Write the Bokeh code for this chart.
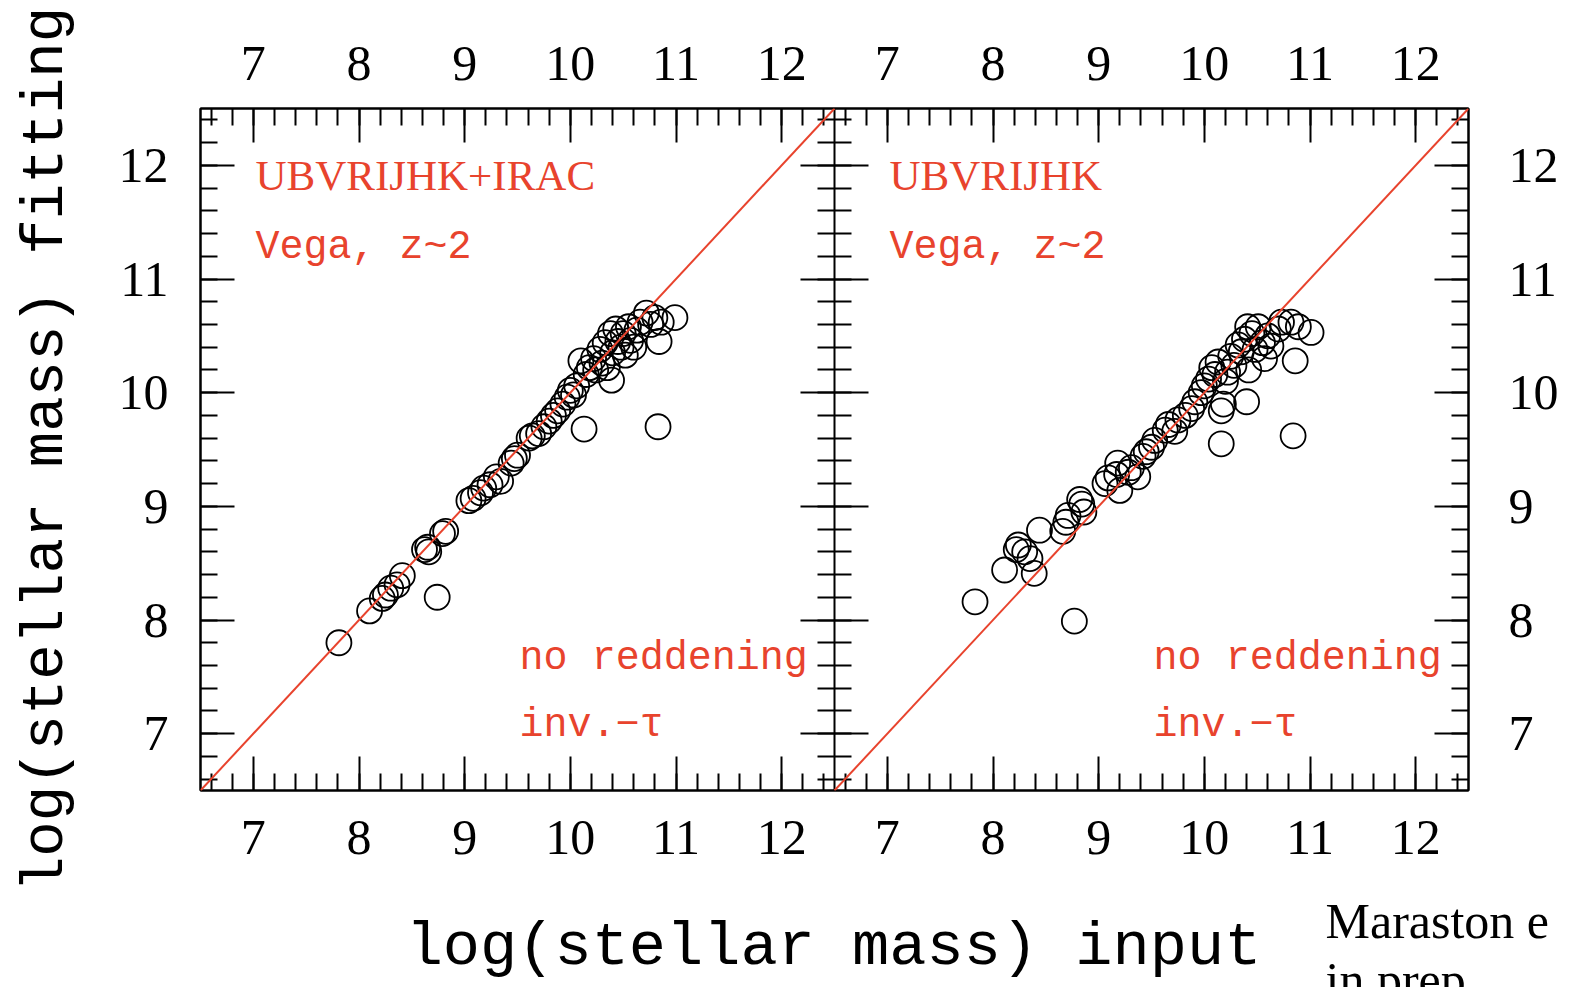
from bokeh.plotting import figure
from bokeh.models import LinearAxis, FixedTicker, Range1d, Label, Slope
from bokeh.layouts import column
from bokeh.embed import file_html
from bokeh.resources import INLINE

# ---------------- data ----------------
tick_values = [7, 8, 9, 10, 11, 12]
minor_values = [6.6, 6.8, 7.0, 7.2, 7.4, 7.6, 7.8, 8.0, 8.2, 8.4, 8.6, 8.8, 9.0, 9.2, 9.4,
                9.6, 9.8, 10.0, 10.2, 10.4, 10.6, 10.8, 11.0, 11.2, 11.4, 11.6, 11.8, 12.0, 12.2, 12.4]

# left panel: UBVRIJHK+IRAC
left_input = [7.81, 8.10, 8.22, 8.25, 8.30, 8.36, 8.41, 8.74, 8.62, 8.65, 8.66, 8.79, 8.82,
              9.04, 9.08, 9.15, 9.18, 9.24, 9.34, 9.30, 9.44, 9.47, 9.50, 9.61, 9.64, 9.70,
              9.75, 9.80, 9.84, 9.88, 9.93, 9.97, 10.00, 10.03, 10.06, 10.13, 10.10, 10.15,
              10.18, 10.22, 10.24, 10.28, 10.30, 10.33, 10.35, 10.38, 10.39, 10.40, 10.43,
              10.45, 10.48, 10.50, 10.52, 10.55, 10.57, 10.60, 10.63, 10.66, 10.72, 10.76,
              10.80, 10.84, 10.86, 10.99, 10.83]
left_fit = [7.80, 8.08, 8.19, 8.22, 8.28, 8.31, 8.39, 8.20, 8.62, 8.64, 8.60, 8.76, 8.78,
            9.05, 9.07, 9.12, 9.16, 9.19, 9.22, 9.26, 9.38, 9.42, 9.45, 9.60, 9.62, 9.64,
            9.70, 9.75, 9.80, 9.84, 9.90, 9.96, 10.02, 9.98, 10.06, 9.68, 10.28, 10.16,
            10.22, 10.30, 10.20, 10.38, 10.26, 10.44, 10.22, 10.52, 10.11, 10.35, 10.56,
            10.45, 10.40, 10.52, 10.33, 10.58, 10.46, 10.40, 10.55, 10.62, 10.70, 10.60,
            10.66, 10.45, 10.62, 10.66, 9.70]

# right panel: UBVRIJHK
right_input = [7.83, 8.11, 8.22, 8.24, 8.30, 8.35, 8.39, 8.44, 8.77, 8.66, 8.69, 8.71, 8.82,
               8.84, 8.86, 9.06, 9.09, 9.17, 9.20, 9.18, 9.28, 9.31, 9.37, 9.42, 9.45, 9.50,
               9.53, 9.63, 9.66, 9.72, 9.75, 9.82, 9.88, 9.91, 9.97, 10.00, 10.04, 10.07,
               10.10, 10.13, 10.16, 10.18, 10.16, 10.20, 10.22, 10.25, 10.28, 10.32, 10.35,
               10.38, 10.40, 10.41, 10.42, 10.45, 10.48, 10.51, 10.55, 10.57, 10.60, 10.63,
               10.70, 10.73, 10.82, 10.86, 10.89, 11.01, 10.84]
right_fit = [8.16, 8.44, 8.62, 8.66, 8.60, 8.54, 8.41, 8.79, 7.99, 8.78, 8.86, 8.92, 9.06,
             9.02, 8.95, 9.20, 9.25, 9.28, 9.14, 9.38, 9.30, 9.34, 9.26, 9.44, 9.48, 9.52,
             9.58, 9.67, 9.72, 9.66, 9.76, 9.80, 9.86, 9.92, 10.00, 10.06, 10.12, 10.22,
             10.16, 10.27, 9.84, 9.90, 9.55, 10.10, 10.18, 10.32, 10.24, 10.42, 10.36,
             10.47, 9.92, 10.58, 10.20, 10.52, 10.38, 10.58, 10.44, 10.30, 10.50, 10.41,
             10.56, 10.62, 10.62, 10.28, 10.58, 10.53, 9.62]

panel_texts_left = ["UBVRIJHK+IRAC", "Vega, z~2", "no reddening", "inv.\u2212\u03c4"]
panel_texts_right = ["UBVRIJHK", "Vega, z~2", "no reddening", "inv.\u2212\u03c4"]
x_title = "log(stellar mass) input"
y_title = "log(stellar mass) fitting"
credit_lines = ["Maraston e", "in prep"]

RED = "#E8432D"

# the two panels share one frame: left panel uses the default x range,
# right panel uses an extra x range offset by one panel width
PANEL_SPAN = 6
top_ticks = tick_values + [t + PANEL_SPAN for t in tick_values]
top_minor = minor_values + [m + PANEL_SPAN for m in minor_values]
tick_text = {t + PANEL_SPAN: str(t) for t in tick_values}

p = figure(width=1573, height=895,
           x_range=Range1d(6.5, 6.5 + 2 * PANEL_SPAN), y_range=Range1d(6.5, 12.5),
           x_axis_location=None, y_axis_location=None,
           toolbar_location=None, output_backend="svg",
           min_border_left=200, min_border_right=105,
           min_border_top=108, min_border_bottom=105)
p.extra_x_ranges = {"right": Range1d(6.5 - PANEL_SPAN, 12.5)}
p.xgrid.visible = False
p.ygrid.visible = False
p.outline_line_color = "black"
p.outline_line_width = 2
p.background_fill_color = "white"
p.border_fill_color = "white"


def make_axis(ticks, minors, labels=True, **kw):
    ax = LinearAxis(ticker=FixedTicker(ticks=ticks, minor_ticks=minors), **kw)
    ax.axis_line_width = 2
    ax.axis_line_color = "black"
    ax.major_tick_line_width = 2
    ax.minor_tick_line_width = 2
    ax.major_tick_line_color = "black"
    ax.minor_tick_line_color = "black"
    ax.major_tick_in = 34
    ax.major_tick_out = 0
    ax.minor_tick_in = 17
    ax.minor_tick_out = 0
    ax.major_label_text_font = "Liberation Serif"
    ax.major_label_text_font_size = "50px"
    ax.major_label_text_color = "black"
    if labels:
        ax.major_label_overrides = dict(tick_text)
    else:
        ax.major_label_overrides = {t: "" for t in ticks}
    return ax


# left axis with title
ax_left = make_axis(tick_values, minor_values)
ax_left.major_label_standoff = 32
ax_left.axis_label = y_title
ax_left.axis_label_text_font = "Liberation Mono"
ax_left.axis_label_text_font_size = "59px"
ax_left.axis_label_text_font_style = "normal"
ax_left.axis_label_text_color = "black"
ax_left.axis_label_standoff = 36
p.add_layout(ax_left, "left")

# bottom and top axes, both panels
ax_bot = make_axis(top_ticks, top_minor)
ax_bot.major_label_standoff = 30
p.add_layout(ax_bot, "below")

ax_top = make_axis(top_ticks, top_minor)
ax_top.major_label_standoff = 29
p.add_layout(ax_top, "above")

# right axis (right panel)
ax_right = make_axis(tick_values, minor_values)
ax_right.major_label_standoff = 40
p.add_layout(ax_right, "right")

# middle divider with ticks on both sides
ax_mid = make_axis(tick_values, minor_values, labels=False, fixed_location=12.5)
ax_mid.major_tick_out = 34
ax_mid.minor_tick_out = 17
p.add_layout(ax_mid, "right")

# one-to-one lines
p.add_layout(Slope(gradient=1, y_intercept=0, line_color=RED, line_width=2))
p.add_layout(Slope(gradient=1, y_intercept=0, line_color=RED, line_width=2, x_range_name="right"))

# scatter
p.scatter(left_input, left_fit, size=25, marker="circle", fill_color=None,
          line_color="black", line_width=1.8)
p.scatter(right_input, right_fit, size=25, marker="circle", fill_color=None,
          line_color="black", line_width=1.8, x_range_name="right")

# panel annotations
text_x = [7.02, 7.02, 9.52, 9.52]
text_y = [11.91, 11.28, 7.66, 7.07]
text_font = ["Liberation Serif", "Liberation Mono", "Liberation Mono", "Liberation Mono"]
text_size = ["43px", "40px", "40px", "40px"]
for rng, texts in (("default", panel_texts_left), ("right", panel_texts_right)):
    for t, x, y, f, s in zip(texts, text_x, text_y, text_font, text_size):
        p.add_layout(Label(x=x, y=y, text=t, text_font=f, text_font_size=s,
                           text_color=RED, text_align="left", text_baseline="alphabetic",
                           x_range_name=rng))

# bottom strip: common x title and slide credit
q = figure(width=1573, height=92, x_range=Range1d(0, 1573), y_range=Range1d(0, 92),
           x_axis_location=None, y_axis_location=None,
           toolbar_location=None, output_backend="svg",
           min_border=0, min_border_left=0, min_border_right=0,
           min_border_top=0, min_border_bottom=0)
q.frame_align = False
p.frame_align = False
q.xgrid.visible = False
q.ygrid.visible = False
q.outline_line_color = None
q.background_fill_color = "white"
q.border_fill_color = "white"

q.add_layout(Label(x=833, y=40, text=x_title, text_font="Liberation Mono",
                   text_font_size="62px", text_color="black",
                   text_align="center", text_baseline="alphabetic"))
q.add_layout(Label(x=1325, y=67, text=credit_lines[0], text_font="Liberation Serif",
                   text_font_size="50px", text_color="black",
                   text_align="left", text_baseline="alphabetic"))
q.add_layout(Label(x=1325, y=8, text=credit_lines[1], text_font="Liberation Serif",
                   text_font_size="50px", text_color="black",
                   text_align="left", text_baseline="alphabetic"))

layout = column(p, q, spacing=0)
open("out.html", "w").write(file_html(layout, INLINE))
